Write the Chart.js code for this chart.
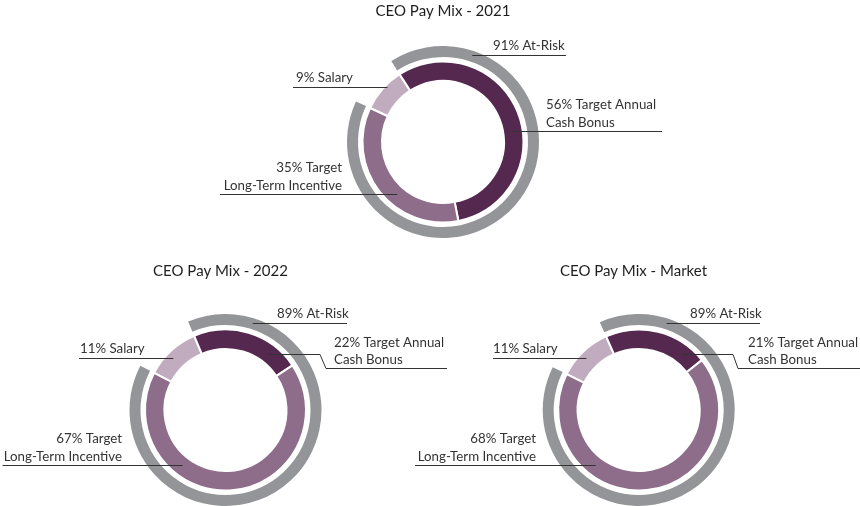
<!DOCTYPE html>
<html><head><meta charset="utf-8">
<script src="https://cdn.jsdelivr.net/npm/chart.js@4/dist/chart.umd.min.js"></script>
<style>
html,body{margin:0;padding:0;background:#fff;}
#wrap{position:relative;width:860px;height:506px;overflow:hidden;background:#fff;}
#wrap canvas{position:absolute;left:0;top:0;}
</style></head><body><div id="wrap">
<canvas id="c0" width="860" height="506"></canvas>
<canvas id="c1" width="860" height="506"></canvas>
<canvas id="c2" width="860" height="506"></canvas>
</div>
<script>
// ---- data ----
const titles = ['CEO Pay Mix - 2021', 'CEO Pay Mix - 2022', 'CEO Pay Mix - Market'];
const segments = ['Salary', 'Target Annual Cash Bonus', 'Target Long-Term Incentive'];
const salary = [9, 11, 11];
const bonus  = [56, 22, 21];
const lti    = [35, 67, 68];
const atRisk = [91, 89, 89];

// ---- styles ----
const COLORS = { salary:'#c1acbf', bonus:'#55284f', lti:'#8d6d89', gray:'#949598', text:'#333333', title:'#1e1e1e', line:'#333333' };
const FONT = 'Lato, "Open Sans", sans-serif';
const R = 96;

// ---- layout (positions only) ----
const layouts = [
  { cx:443, cy:142, rotation:-65, titleX:443, titleY:11,
    risk:{dy:-87, t:0.62, far:123, textX:50},
    sal:{dy:-55, t:0.88, far:-150, textX:-147},
    bon:{dy:-11, t:0.45, far:219, textX:103},
    lti:{dy:52, t:0.42, far:-223, textX:-101} },
  { cx:225.5, cy:410, rotation:-62.5, titleX:220.5, titleY:271,
    risk:{dy:-87, t:0.56, far:121.5, textX:51.5},
    sal:{dy:-52, t:0.65, far:-146.5, textX:-145.5},
    bon:{dy:-56, t:0.5, elbowX:94.5, dy2:-42, elbowX2:100.5, far:221.5, textX:108.5},
    lti:{dy:55, t:0.45, far:-223, textX:-103.5} },
  { cx:638.7, cy:410, rotation:-63.5, titleX:633.5, titleY:271,
    risk:{dy:-87, t:0.58, far:121.3, textX:51.3},
    sal:{dy:-52, t:0.65, far:-145.7, textX:-145.7},
    bon:{dy:-56, t:0.5, elbowX:94.3, dy2:-42, elbowX2:99.3, far:221.3, textX:109.3},
    lti:{dy:55, t:0.45, far:-223.7, textX:-102.7} }
];

function ringPoint(arc, t, dy, side){
  const r = arc.innerRadius + t * (arc.outerRadius - arc.innerRadius);
  const dx = Math.sqrt(Math.max(r*r - dy*dy, 0));
  return { x: arc.x + side * dx, y: arc.y + dy };
}

const labelPlugin = {
  id: 'payMixLabels',
  afterDraw(chart, args, opts) {
    const i = opts.index, L = layouts[i];
    const ctx = chart.ctx;
    const outer = chart.getDatasetMeta(0).data;   // [gap, at-risk]
    const ring  = chart.getDatasetMeta(2).data;   // [salary, bonus, lti]
    const cx = ring[0].x, cy = ring[0].y;
    ctx.save();
    ctx.fillStyle = COLORS.title;
    ctx.font = '400 15px ' + FONT;
    ctx.textAlign = 'center'; ctx.textBaseline = 'middle';
    ctx.fillText(titles[i], L.titleX, L.titleY);

    ctx.strokeStyle = COLORS.line; ctx.lineWidth = 1;
    ctx.fillStyle = COLORS.text;
    ctx.font = '400 13.3px ' + FONT;

    function simple(arc, spec, side, lines, align){
      const p = ringPoint(arc, spec.t, spec.dy, side);
      const y = Math.round(cy + spec.dy) + 0.5;
      ctx.beginPath(); ctx.moveTo(p.x, y); ctx.lineTo(cx + spec.far, y); ctx.stroke();
      ctx.textAlign = align;
      const n = lines.length;
      lines.forEach((s, k) => {
        const off = n === 1 ? -9.5 : (k === 0 ? -26.5 : -8.5);
        ctx.fillText(s, cx + spec.textX, y + off);
      });
    }
    // at-risk (outer gray ring)
    simple(outer[1], L.risk, 1, [atRisk[i] + '% At-Risk'], 'left');
    // salary
    simple(ring[0], L.sal, -1, [salary[i] + '% Salary'], 'left');
    // long-term incentive
    simple(ring[2], L.lti, -1, [lti[i] + '% Target', 'Long-Term Incentive'], 'right');
    // bonus
    const b = L.bon;
    const bl = [bonus[i] + '% Target Annual', 'Cash Bonus'];
    if (b.elbowX !== undefined) {
      const p = ringPoint(ring[1], b.t, b.dy, 1);
      const y1 = Math.round(cy + b.dy) + 0.5, y2 = Math.round(cy + b.dy2) + 0.5;
      ctx.beginPath(); ctx.moveTo(p.x, y1); ctx.lineTo(cx + b.elbowX, y1);
      ctx.lineTo(cx + b.elbowX2, y2); ctx.lineTo(cx + b.far, y2); ctx.stroke();
      ctx.textAlign = 'left';
      ctx.fillText(bl[0], cx + b.textX, y2 - 25.5);
      ctx.fillText(bl[1], cx + b.textX, y2 - 8.5);
    } else {
      simple(ring[1], b, 1, bl, 'left');
    }
    ctx.restore();
  }
};

layouts.forEach((L, i) => {
  new Chart(document.getElementById('c' + i), {
    type: 'doughnut',
    data: {
      labels: segments,
      datasets: [
        { label: 'At-Risk', data: [salary[i], atRisk[i]],
          backgroundColor: ['rgba(0,0,0,0)', COLORS.gray], borderWidth: 0, hoverBorderWidth: 0, weight: 11 },
        { label: 'gap', data: [1], backgroundColor: ['rgba(0,0,0,0)'], borderWidth: 0, hoverBorderWidth: 0, weight: 4.5 },
        { label: 'Pay Mix', data: [salary[i], bonus[i], lti[i]],
          backgroundColor: [COLORS.salary, COLORS.bonus, COLORS.lti],
          borderColor: '#ffffff', borderWidth: 2, hoverBorderWidth: 2, weight: 19.5 }
      ]
    },
    options: {
      responsive: false, animation: false, events: [],
      rotation: L.rotation, cutout: (61/R*100) + '%',
      layout: { padding: { left: L.cx - R, right: 860 - L.cx - R, top: L.cy - R, bottom: 506 - L.cy - R } },
      plugins: { legend: { display: false }, title: { display: false }, tooltip: { enabled: false },
                 payMixLabels: { index: i } }
    },
    plugins: [labelPlugin]
  });
});
</script>
</body></html>
